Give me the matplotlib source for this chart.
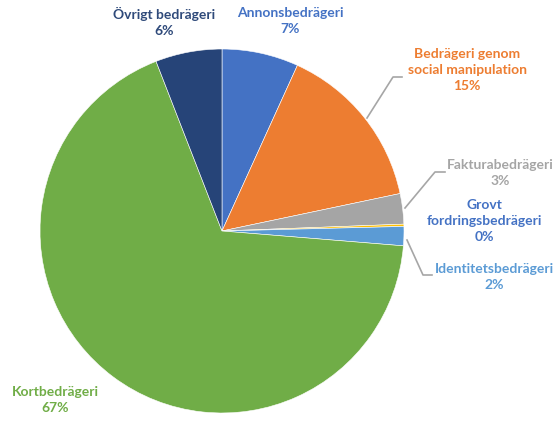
import matplotlib.pyplot as plt

# data (clockwise from top)
categories = ['Annonsbedrägeri', 'Bedrägeri genom\nsocial manipulation', 'Fakturabedrägeri',
              'Grovt\nfordringsbedrägeri', 'Identitetsbedrägeri', 'Kortbedrägeri', 'Övrigt bedrägeri']
values = [6.8, 14.9, 2.7, 0.2, 1.7, 67.8, 5.9]
pct_labels = ['7%', '15%', '3%', '0%', '2%', '67%', '6%']
colors = ['#4472C4', '#ED7D31', '#A5A5A5', '#FFC000', '#5B9BD5', '#70AD47', '#264478']
text_colors = ['#4472C4', '#ED7D31', '#A5A5A5', '#4472C4', '#5B9BD5', '#70AD47', '#2F4A7A']

W, H = 556, 421
fig = plt.figure(figsize=(W / 100, H / 100), dpi=100)
ax = fig.add_axes([0, 0, 1, 1])

cx, cy, r = 222, H - 231, 182
ax.pie(values, colors=colors, startangle=90, counterclock=False,
       center=(cx, cy), radius=r, frame=True,
       wedgeprops=dict(edgecolor='white', linewidth=0.4))
ax.set_xlim(0, W)
ax.set_ylim(0, H)
ax.axis('off')

# label positions in pixels (x center, y of first line)
label_pos = [(290, 16), (467, 57), (500, 168), (484, 208), (494, 272), (55, 395), (164, 16)]
for name, pct, col, (x, y) in zip(categories, pct_labels, text_colors, label_pos):
    ax.text(x, H - y + 9, name + '\n' + pct, ha='center', va='top', color=col,
            fontsize=10, fontweight='bold', family='Lato', linespacing=1.38)

# leader lines
leaders = [
    ([367, 393, 402], [118, 77, 77]),
    ([405, 435, 445], [208, 172, 172]),
    ([407, 423, 432], [240, 275, 275]),
]
for xs, ys in leaders:
    ax.plot(xs, [H - v for v in ys], color='#A6A6A6', linewidth=1.2)

fig.savefig('out.png', dpi=100)
